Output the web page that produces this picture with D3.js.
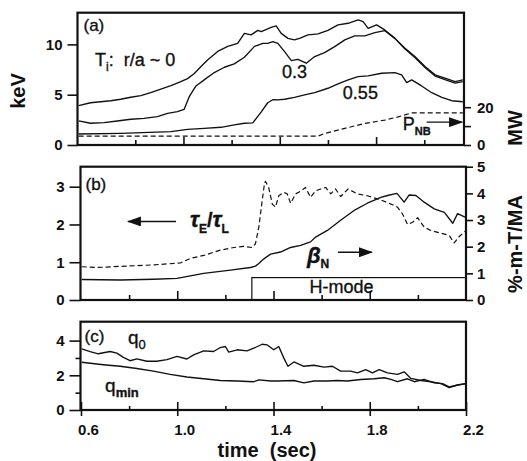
<!DOCTYPE html>
<html>
<head>
<meta charset="utf-8">
<script src="https://cdn.jsdelivr.net/npm/d3@7"></script>
<style>
  body { margin: 0; background: #fff; }
  svg { display: block; font-family: "Liberation Sans", Arial, Helvetica, sans-serif; }
</style>
</head>
<body>
<div id="chart"></div>
<script>
// ---- data: [time (s), value] ----
// (a) ion temperature, keV
const tiCore = [[0.565,3.91],[0.614,4.2],[0.656,4.3],[0.698,4.4],[0.739,4.55],[0.781,4.75],[0.823,4.9],[0.864,5.2],
  [0.906,5.55],[0.948,5.9],[0.989,6.3],[1.017,6.6],[1.045,7.1],[1.073,7.8],[1.100,8.45],[1.142,9.3],[1.184,9.8],
  [1.225,10.1],[1.253,11.1],[1.281,10.95],[1.309,11.4],[1.323,11.27],[1.364,11.7],[1.385,11.84],[1.406,11.1],
  [1.434,10.6],[1.461,10.45],[1.482,10.6],[1.517,10.95],[1.559,11.05],[1.600,11.4],[1.642,11.94],[1.684,12.1],
  [1.725,12.44],[1.746,12.27],[1.767,11.6],[1.802,11.94],[1.836,11.44],[1.878,10.6],[1.920,9.62],[1.961,8.79],
  [2.003,7.8],[2.045,6.97],[2.086,6.64],[2.128,6.3],[2.16,6.47]];
const tiMid = [[0.565,2.39],[0.614,2.16],[0.670,2.22],[0.725,2.39],[0.781,2.56],[0.836,2.65],[0.892,2.82],[0.934,3.15],
  [0.975,3.31],[1.003,3.55],[1.024,4.8],[1.052,5.87],[1.086,6.47],[1.128,7.2],[1.170,7.73],[1.211,8.06],[1.253,8.72],
  [1.295,9.8],[1.330,10.1],[1.350,10.1],[1.371,10.28],[1.392,10.1],[1.420,9.28],[1.448,8.39],[1.475,8.52],[1.510,8.13],
  [1.545,8.79],[1.586,9.19],[1.628,9.78],[1.670,10.45],[1.711,10.85],[1.753,10.85],[1.795,11.17],[1.836,11.37],
  [1.878,10.6],[1.920,9.55],[1.961,8.7],[2.003,7.7],[2.045,6.85],[2.086,6.5],[2.128,6.15],[2.16,6.3]];
const tiEdge = [[0.565,1.09],[0.739,1.16],[0.948,1.33],[1.017,1.56],[1.086,1.66],[1.156,1.76],[1.211,2.0],[1.253,2.16],
  [1.288,2.2],[1.323,3.3],[1.350,4.2],[1.371,4.5],[1.392,4.48],[1.420,4.55],[1.461,4.74],[1.503,4.98],[1.545,5.2],
  [1.600,5.64],[1.642,6.07],[1.684,6.47],[1.725,6.8],[1.767,6.87],[1.823,7.13],[1.878,7.2],[1.906,6.97],[1.927,6.2],
  [1.948,6.47],[1.989,5.87],[2.031,5.2],[2.073,4.74],[2.114,4.4],[2.16,4.3]];
// (a) neutral beam power, MW
const pnb = [[0.565,4.7],[1.559,4.7],[1.586,6.1],[1.670,8.8],[1.753,11.4],[1.836,13.2],[1.892,14.9],[1.948,17.0],[2.16,17.0]];

// (b) confinement enhancement tauE/tauL (left axis)
const tauRatio = [[0.603,0.88],[0.665,0.86],[0.763,0.89],[0.901,0.93],[1.013,0.98],[1.054,1.10],[1.110,1.18],[1.179,1.32],
  [1.235,1.39],[1.276,1.42],[1.311,1.39],[1.325,1.49],[1.339,1.93],[1.353,2.63],[1.363,3.11],[1.367,3.14],[1.380,2.98],
  [1.395,2.54],[1.408,2.46],[1.422,2.76],[1.443,2.85],[1.457,2.81],[1.471,2.56],[1.492,2.81],[1.513,2.88],[1.533,2.98],
  [1.554,2.72],[1.575,2.89],[1.596,2.94],[1.617,2.98],[1.638,2.81],[1.658,2.94],[1.679,2.74],[1.710,2.94],[1.749,2.81],
  [1.790,2.76],[1.846,2.65],[1.888,2.54],[1.915,2.46],[1.936,2.28],[1.957,2.0],[1.978,2.06],[1.999,2.18],[2.026,1.93],
  [2.054,1.84],[2.096,1.77],[2.130,1.71],[2.151,1.51],[2.172,1.68],[2.196,1.82]];
// (b) normalized beta, %-m-T/MA (right axis)
const betaN = [[0.603,0.77],[0.763,0.75],[0.901,0.78],[0.999,0.81],[1.110,1.0],[1.221,1.12],[1.304,1.22],[1.325,1.27],
  [1.339,1.37],[1.353,1.49],[1.367,1.59],[1.388,1.72],[1.429,1.80],[1.471,1.97],[1.513,2.05],[1.554,2.18],[1.575,2.36],
  [1.624,2.61],[1.679,2.99],[1.735,3.36],[1.790,3.63],[1.846,3.85],[1.874,3.92],[1.913,4.0],[1.943,3.67],[1.964,3.94],
  [1.992,3.92],[2.026,3.67],[2.068,3.42],[2.110,3.29],[2.145,2.88],[2.165,3.24],[2.196,3.11]];
const hModeStart = 1.31;

// (c) safety factor
const q0 = [[0.603,3.52],[0.638,3.37],[0.672,3.24],[0.721,3.37],[0.749,3.28],[0.776,3.03],[0.804,2.84],[0.832,2.95],
  [0.874,2.81],[0.915,2.81],[0.957,2.90],[0.999,3.09],[1.040,2.94],[1.068,3.18],[1.110,3.41],[1.151,3.37],[1.179,3.60],
  [1.200,3.66],[1.214,3.34],[1.249,3.47],[1.290,3.41],[1.318,3.56],[1.353,3.79],[1.374,3.75],[1.401,3.47],[1.422,3.66],
  [1.443,2.99],[1.460,2.52],[1.485,2.77],[1.526,2.52],[1.568,2.58],[1.610,2.47],[1.645,2.52],[1.679,2.24],[1.721,2.24],
  [1.749,2.14],[1.783,2.33],[1.811,2.14],[1.839,2.33],[1.874,2.14],[1.915,2.05],[1.943,2.20],[1.971,1.82],[2.013,1.70],
  [2.054,1.63],[2.096,1.52],[2.130,1.29],[2.165,1.44],[2.2,1.52]];
const qMin = [[0.603,2.75],[0.693,2.61],[0.763,2.52],[0.832,2.39],[0.901,2.24],[0.971,2.05],[1.040,1.90],[1.110,1.80],
  [1.179,1.70],[1.249,1.67],[1.318,1.63],[1.339,1.74],[1.388,1.67],[1.415,1.67],[1.485,1.70],[1.526,1.56],[1.568,1.67],
  [1.624,1.67],[1.665,1.70],[1.707,1.67],[1.763,1.76],[1.818,1.80],[1.860,1.86],[1.888,1.76],[1.915,1.63],[1.957,1.80],
  [1.985,1.63],[2.026,1.76],[2.068,1.56],[2.103,1.52],[2.130,1.33],[2.165,1.44],[2.2,1.52]];

// ticks
const timeMajor = [0.6, 1.0, 1.4, 1.8, 2.2];
const timeMinor = [0.8, 1.2, 1.6, 2.0];
const keVTicks = [0, 5, 10];
const mwTicks = [0, 10, 20];
const tauTicks = [0, 1, 2, 3];
const betaTicks = [0, 1, 2, 3, 4, 5];
const qMajor = [0, 2, 4];
const qMinor = [1, 3];

// ---- layout ----
const W = 527, H = 461;
const boxA = {l: 77.5, r: 464, t: 12.7, b: 145};
const boxB = {l: 80.5, r: 466, t: 166.7, b: 300};
const boxC = {l: 80.5, r: 466, t: 321.7, b: 410};
const ink = "#111";
const intFmt = d3.format("d");

const svg = d3.select("#chart").append("svg")
  .attr("width", W).attr("height", H);

// scales (panel a is slightly shifted in the original scan)
const xA = d3.scaleLinear().domain([0.56, 2.165]).range([boxA.l, boxA.r]);
const xT = d3.scaleLinear().domain([0.6, 2.2]).range([81, 466]);
const yA = d3.scaleLinear().domain([0, 10]).range([145, 44.4]);
const yMW = d3.scaleLinear().domain([0, 20]).range([145, 107.2]);
const yB = d3.scaleLinear().domain([0, 3]).range([300, 186.7]);
const yBeta = d3.scaleLinear().domain([0, 5]).range([300, 166.7]);
const yC = d3.scaleLinear().domain([0, 4]).range([410, 340.6]);

function styleAxis(g) {
  g.attr("font-size", null).attr("font-family", null);
  g.select(".domain").remove();
  g.selectAll("line").attr("stroke", ink).attr("stroke-width", 1.6);
  g.selectAll("text").attr("fill", ink).attr("font-size", 15).attr("font-weight", "bold");
  return g;
}

function addAxis(axis, tx, ty) {
  const g = svg.append("g").attr("transform", `translate(${tx},${ty})`).call(axis);
  return styleAxis(g);
}

function addLine(data, x, y, dashed) {
  svg.append("path").datum(data)
    .attr("d", d3.line().x(d => x(d[0])).y(d => y(d[1])))
    .attr("fill", "none")
    .attr("stroke", ink)
    .attr("stroke-width", dashed ? 1.2 : 1.35)
    .attr("stroke-linejoin", "round")
    .attr("stroke-dasharray", dashed ? "5,3" : null);
}

function frame(b) {
  svg.append("rect")
    .attr("x", b.l).attr("y", b.t)
    .attr("width", b.r - b.l).attr("height", b.b - b.t)
    .attr("fill", "none").attr("stroke", ink).attr("stroke-width", 2.2);
}

// text made of pieces: [string, size, dy, weight, style]
function label(x, y, parts, anchor) {
  const t = svg.append("text").attr("x", x).attr("y", y)
    .attr("fill", ink).attr("text-anchor", anchor || "start")
    .attr("stroke", ink).attr("stroke-width", 0.35)
    .style("white-space", "pre");
  parts.forEach(p => {
    t.append("tspan").text(p[0])
      .attr("font-size", p[1]).attr("dy", p[2] || 0)
      .attr("font-weight", p[3] || "normal")
      .attr("font-style", p[4] || "normal");
  });
  return t;
}

// arrowhead
svg.append("defs").append("marker")
  .attr("id", "head").attr("markerUnits", "userSpaceOnUse")
  .attr("markerWidth", 14).attr("markerHeight", 10)
  .attr("refX", 13).attr("refY", 5).attr("orient", "auto")
  .append("path").attr("d", "M0,0L14,5L0,10Z").attr("fill", ink);

function arrow(x1, y1, x2, y2) {
  svg.append("line").attr("x1", x1).attr("y1", y1).attr("x2", x2).attr("y2", y2)
    .attr("stroke", ink).attr("stroke-width", 1.4).attr("marker-end", "url(#head)");
}

// ---- panel (a) ----
addAxis(d3.axisLeft(yA).tickValues(keVTicks).tickSize(10).tickPadding(5).tickFormat(intFmt), boxA.l, 0);
addAxis(d3.axisRight(yMW).tickValues(mwTicks).tickSize(7).tickPadding(6)
  .tickFormat(d => d === 10 ? "" : intFmt(d)), boxA.r, 0);
addAxis(d3.axisBottom(xA).tickValues([1.0, 1.4, 1.8]).tickSize(-8).tickFormat(""), 0, boxA.b);
addAxis(d3.axisBottom(xA).tickValues(timeMinor).tickSize(-5).tickFormat(""), 0, boxA.b);

addLine(tiCore, xA, yA);
addLine(tiMid, xA, yA);
addLine(tiEdge, xA, yA);
addLine(pnb, xA, yMW, true);
frame(boxA);

label(boxA.l + 6, boxA.t + 18, [["(a)", 17]]);
label(xA(0.633), yA(7.83), [["T", 18], ["i", 12, 5], [":  r/a ~ 0", 18, -5]]);
label(xA(1.409), yA(6.64), [["0.3", 18]]);
label(xA(1.662), yA(4.58), [["0.55", 18]]);
label(xA(1.911), yMW(7.9), [["P", 18], ["NB", 11, 5, "bold"]]);
arrow(xA(2.01), yMW(12.1), xA(2.157), yMW(12.1));

// ---- panel (b) ----
addAxis(d3.axisLeft(yB).tickValues(tauTicks).tickSize(11).tickPadding(5).tickFormat(intFmt), boxB.l, 0);
addAxis(d3.axisRight(yBeta).tickValues(betaTicks).tickSize(7).tickPadding(4).tickFormat(intFmt), boxB.r, 0);
addAxis(d3.axisBottom(xT).tickValues([1.0, 1.4, 1.8]).tickSize(-9).tickFormat(""), 0, boxB.b);
addAxis(d3.axisBottom(xT).tickValues(timeMinor).tickSize(-5).tickFormat(""), 0, boxB.b);

addLine(tauRatio, xT, yB, true);
addLine(betaN, xT, yBeta);
svg.append("rect")
  .attr("x", xT(hModeStart)).attr("y", yBeta(0.84))
  .attr("width", boxB.r - xT(hModeStart)).attr("height", boxB.b - yBeta(0.84))
  .attr("fill", "none").attr("stroke", ink).attr("stroke-width", 1.2);
label(xT(1.683), yBeta(0.26), [["H-mode", 18]], "middle");
frame(boxB);

label(boxB.l + 5, boxB.t + 23, [["(b)", 17]]);
label(xT(1.053), yB(1.92), [["τ", 22, 0, "bold", "italic"], ["E", 12, 6, "bold"], ["/", 20, -6, "bold"],
  ["τ", 22, 0, "bold", "italic"], ["L", 12, 6, "bold"]]);
arrow(xT(0.995), yB(2.08), xT(0.795), yB(2.08));
label(xT(1.539), yBeta(1.38), [["β", 22, 0, "bold", "italic"], ["N", 12, 5, "bold"]]);
arrow(xT(1.668), yBeta(1.79), xT(1.809), yBeta(1.79));

// ---- panel (c) ----
addAxis(d3.axisLeft(yC).tickValues(qMajor).tickSize(11).tickPadding(5).tickFormat(intFmt), boxC.l, 0);
addAxis(d3.axisLeft(yC).tickValues(qMinor).tickSize(5).tickFormat(""), boxC.l, 0);
addAxis(d3.axisBottom(xT).tickValues(timeMajor).tickSize(-8).tickFormat(""), 0, boxC.b);
addAxis(d3.axisBottom(xT).tickValues(timeMinor).tickSize(-4).tickFormat(""), 0, boxC.b);
const xLab = addAxis(d3.axisBottom(xT).tickValues(timeMajor).tickSize(6).tickPadding(8)
  .tickFormat(d3.format(".1f")), 0, boxC.b);
xLab.selectAll("text").attr("dx", 7);

addLine(q0, xT, yC);
addLine(qMin, xT, yC);
frame(boxC);

label(boxC.l + 4, boxC.t + 20, [["(c)", 17]]);
label(xT(0.795), yC(3.78), [["q", 19], ["0", 13, 5]]);
label(xT(0.70), yC(1.05), [["q", 19], ["min", 13, 5, "bold"]]);

// ---- axis titles ----
svg.append("text").attr("transform", "translate(25,91) rotate(-90)")
  .attr("text-anchor", "middle").attr("font-size", 20).attr("font-weight", "bold").attr("fill", ink)
  .text("keV");
svg.append("text").attr("transform", "translate(522,128) rotate(-90)")
  .attr("text-anchor", "middle").attr("font-size", 20).attr("font-weight", "bold").attr("fill", ink)
  .text("MW");
svg.append("text").attr("transform", "translate(522,244) rotate(-90)")
  .attr("text-anchor", "middle").attr("font-size", 20).attr("font-weight", "bold").attr("fill", ink)
  .text("%-m-T/MA");
svg.append("text").attr("x", 267).attr("y", 457)
  .attr("text-anchor", "middle").attr("font-size", 20).attr("font-weight", "bold").attr("fill", ink)
  .style("white-space", "pre")
  .text("time  (sec)");
</script>
</body>
</html>
